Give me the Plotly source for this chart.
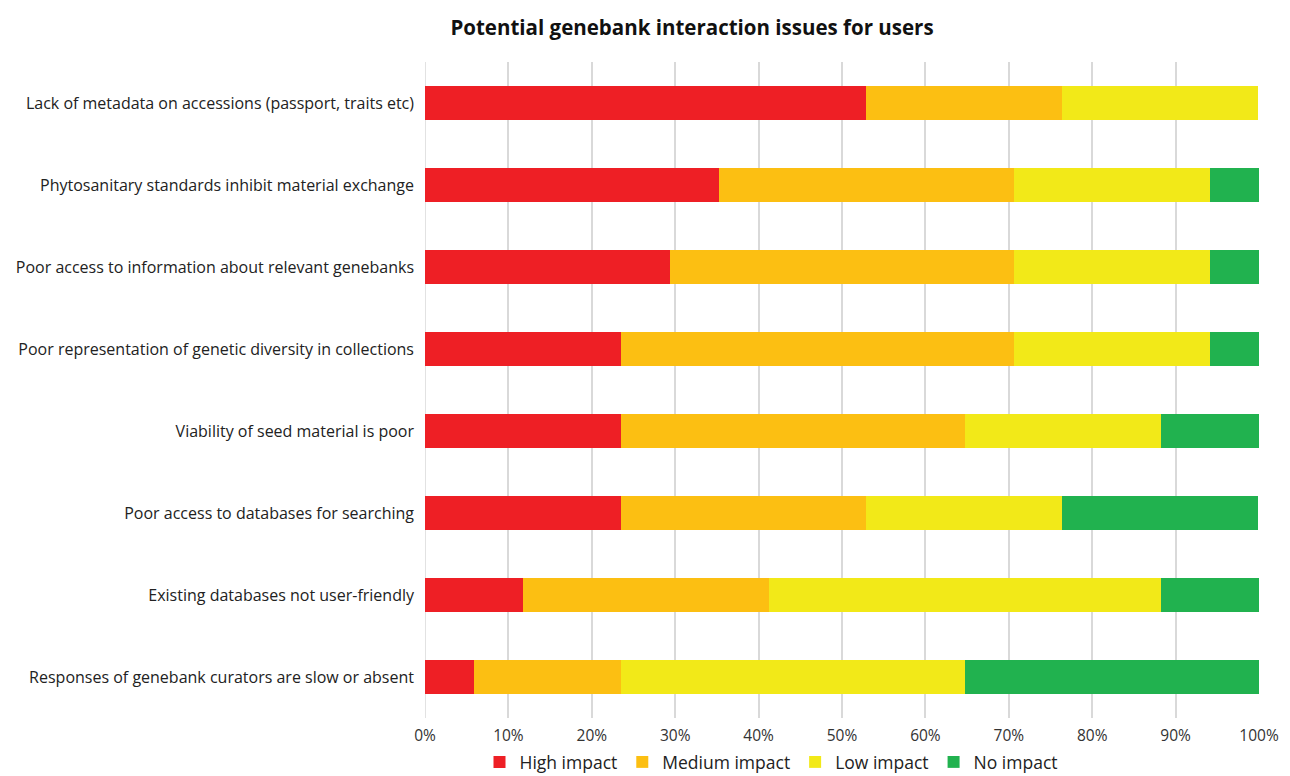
import plotly.graph_objects as go

categories = [
    "Lack of metadata on accessions (passport, traits etc)",
    "Phytosanitary standards inhibit material exchange",
    "Poor access to information about relevant genebanks",
    "Poor representation of genetic diversity in collections",
    "Viability of seed material is poor",
    "Poor access to databases for searching",
    "Existing databases not user-friendly",
    "Responses of genebank curators are slow or absent",
]
high = [52.9, 35.3, 29.4, 23.5, 23.5, 23.5, 11.8, 5.9]
medium = [23.5, 35.3, 41.2, 47.1, 41.2, 29.4, 29.4, 17.6]
low = [23.5, 23.5, 23.5, 23.5, 23.5, 23.5, 47.1, 41.2]
none_ = [0.0, 5.9, 5.9, 5.9, 11.8, 23.5, 11.8, 35.3]

series = [
    ("High impact", high, "#EE1F25"),
    ("Medium impact", medium, "#FCBF12"),
    ("Low impact", low, "#F2E918"),
    ("No impact", none_, "#21B24F"),
]

W, H = 1282, 768
L, R, T, B = 417, 31, 54, 58
plot_w = W - L - R

fig = go.Figure()
for name, vals, color in series:
    fig.add_trace(go.Bar(
        y=categories, x=vals, name=name, orientation="h",
        marker=dict(color=color, line=dict(width=0)),
        width=0.41,
    ))

fig.update_layout(
    barmode="stack",
    width=W, height=H,
    paper_bgcolor="white", plot_bgcolor="white",
    margin=dict(l=L, r=R, t=T, b=B, autoexpand=False),
    font=dict(family="Open Sans, Noto Sans, sans-serif", color="#222222", size=14),
    title=dict(
        text="<b>Potential genebank interaction issues for users</b>",
        x=684/W, xref="container", xanchor="center",
        y=1 - 20/H, yref="container", yanchor="middle",
        font=dict(size=20.5, color="#111111"),
    ),
    xaxis=dict(
        range=[0, 100], dtick=10, ticksuffix="%",
        showgrid=True, gridcolor="#D9D9D9", gridwidth=1.5,
        zeroline=False, showline=False, automargin=False,
        tickfont=dict(size=15.5, color="#333333"),
        ticks="", ticklabelstandoff=6,
    ),
    yaxis=dict(
        autorange="reversed", showgrid=False, showline=False, automargin=False,
        tickfont=dict(size=16, color="#222222"),
        ticks="", ticklabelstandoff=10,
    ),
    legend=dict(
        orientation="h", x=(763-L)/plot_w, xanchor="center",
        yref="container", y=1 - 754/H, yanchor="middle",
        traceorder="normal",
        font=dict(size=17.5, color="#222222"),
        itemwidth=30, tracegroupgap=0,
        bgcolor="rgba(0,0,0,0)",
    ),
    bargap=0.59,
)
fig.add_shape(type="line", xref="x", yref="paper", x0=0, x1=0, y0=0, y1=1,
              line=dict(color="#D9D9D9", width=1.5), layer="below")

fig.write_html("out.html")
